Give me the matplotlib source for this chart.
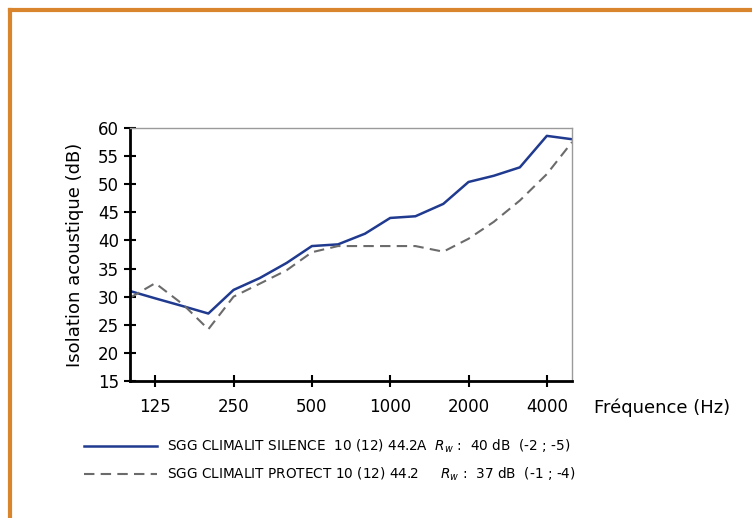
import matplotlib
matplotlib.use("Agg")
import matplotlib.pyplot as plt
from matplotlib.lines import Line2D

# third-octave bands (Hz)
freqs = [100, 125, 160, 200, 250, 315, 400, 500, 630, 800,
         1000, 1250, 1600, 2000, 2500, 3150, 4000, 5000]

silence = [31, 29.7, 28.3, 27, 31.2, 33.3, 36, 39, 39.3, 41.2,
           44, 44.3, 46.5, 50.4, 51.5, 53, 58.6, 58]
protect = [29.8, 32.4, 28.6, 24.2, 30, 32.3, 34.7, 37.9, 39, 39,
           39, 39, 38, 40.3, 43.3, 47.1, 51.8, 57.5]

xticks = [125, 250, 500, 1000, 2000, 4000]
xtick_labels = ["125", "250", "500", "1000", "2000", "4000"]
yticks = [15, 20, 25, 30, 35, 40, 45, 50, 55, 60]

label_silence = "SGG CLIMALIT SILENCE  10 (12) 44.2A  $R_w$ :  40 dB  (-2 ; -5)"
label_protect = "SGG CLIMALIT PROTECT 10 (12) 44.2     $R_w$ :  37 dB  (-1 ; -4)"

fig = plt.figure(figsize=(7.52, 5.18), dpi=100)
ax = fig.add_axes([0.1729, 0.2645, 0.5878, 0.4884])

ax.plot(freqs, silence, color="#1f3a8f", lw=1.8, label=label_silence)
ax.plot(freqs, protect, color="#6b6b6b", lw=1.5, dashes=(5, 3), label=label_protect)

ax.set_xscale("log", base=2)
ax.set_xlim(100, 5000)
ax.set_ylim(15, 60)
ax.set_xticks(xticks)
ax.set_xticklabels(xtick_labels)
ax.minorticks_off()
ax.set_yticks(yticks)
ax.tick_params(direction="inout", length=9, width=1.5, labelsize=12, colors="black")
ax.tick_params(axis="x", pad=8)

for side in ["left", "bottom"]:
    ax.spines[side].set_linewidth(2)
    ax.spines[side].set_color("black")
for side in ["top", "right"]:
    ax.spines[side].set_linewidth(1)
    ax.spines[side].set_color("#9a9a9a")

ax.set_ylabel("Isolation acoustique (dB)", fontsize=13, labelpad=10)
fig.text(0.79, 0.212, "Fréquence (Hz)", fontsize=13, va="center", ha="left")

ax.legend(loc="upper left", bbox_to_anchor=(0.105, 0.165), bbox_transform=fig.transFigure,
          frameon=False, fontsize=9.8, handlelength=5.3, handletextpad=0.8,
          labelspacing=0.75, borderaxespad=0)

# orange frame (left and top edges)
fig.add_artist(Line2D([0.0133, 0.0133], [0, 0.981], color="#d9852e", lw=3,
                      transform=fig.transFigure))
fig.add_artist(Line2D([0.0133, 1.0], [0.981, 0.981], color="#d9852e", lw=3,
                      transform=fig.transFigure))

fig.savefig("out.png", dpi=100)
